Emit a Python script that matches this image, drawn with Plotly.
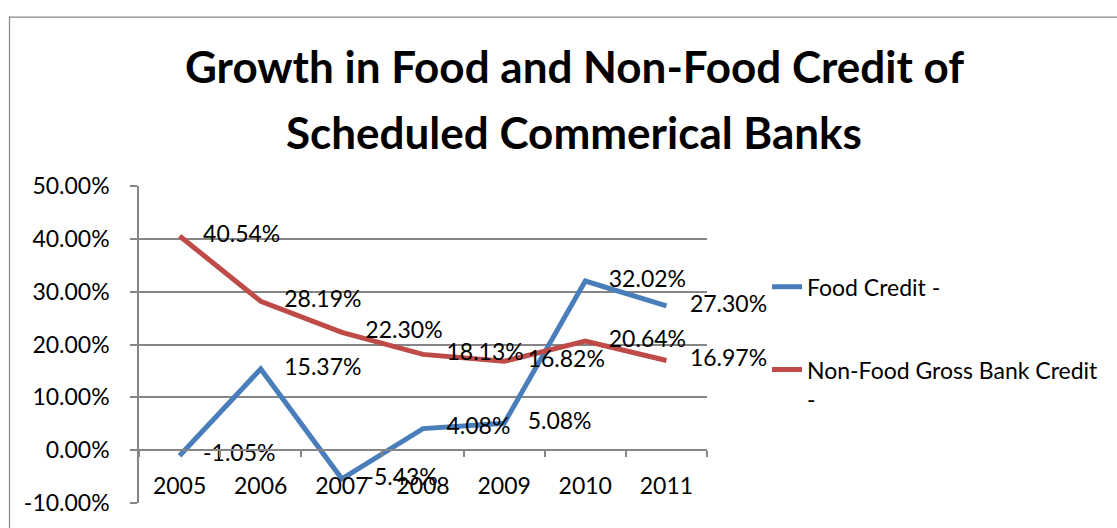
import plotly.graph_objects as go

years = ["2005", "2006", "2007", "2008", "2009", "2010", "2011"]
food_credit = [-0.0105, 0.1537, -0.0543, 0.0408, 0.0508, 0.3202, 0.2730]
non_food_credit = [0.4054, 0.2819, 0.2230, 0.1813, 0.1682, 0.2064, 0.1697]
series_names = ["Food Credit -", "Non-Food Gross Bank Credit<br>-"]
y_ticks = [-0.10, 0.0, 0.10, 0.20, 0.30, 0.40, 0.50]

FONT = "Lato"
FS = 23
BLUE = "#4A7EBB"
RED = "#BE4B48"
GRID = "#868686"


def pct(v):
    return f"{v * 100:.2f}%"


fig = go.Figure()
for name, vals, col, grp in [(series_names[0], food_credit, BLUE, "a"),
                             (series_names[1], non_food_credit, RED, "b")]:
    fig.add_trace(go.Scatter(
        x=years, y=vals, name=name, legendgroup=grp,
        mode="lines+markers+text",
        line=dict(color=col, width=5),
        marker=dict(size=36, color="rgba(0,0,0,0)", line=dict(width=0)),
        text=[pct(v) for v in vals], textposition="middle right",
        textfont=dict(family=FONT, size=FS, color="black"),
        cliponaxis=False,
    ))

W, H = 1117, 528
L, R, T, B = 139, 410, 186, 22
pw = W - L - R
ph = H - T - B


def px_x(x):
    return (x - L) / pw


def px_y(y):
    return (H - B - y) / ph


fig.update_layout(
    width=W, height=H,
    margin=dict(l=L, r=R, t=T, b=B),
    paper_bgcolor="white", plot_bgcolor="white",
    font=dict(family=FONT, size=FS, color="black"),
    showlegend=True,
    legend=dict(x=px_x(767), y=px_y(266), xanchor="left", yanchor="top",
                valign="top", tracegroupgap=50,
                font=dict(family=FONT, size=FS, color="black"),
                bgcolor="rgba(0,0,0,0)"),
    xaxis=dict(type="category", anchor="free", position=10/60,
               showline=True, linecolor=GRID, linewidth=1.5,
               ticks="outside", tickson="boundaries", ticklen=6,
               tickcolor=GRID, tickwidth=1.5, showgrid=False,
               ticklabelstandoff=15,
               tickfont=dict(family=FONT, size=FS, color="black"),
               range=[-0.5, 6.5], zeroline=False),
    yaxis=dict(range=[-0.10, 0.50], tickvals=y_ticks,
               ticktext=[pct(v) for v in y_ticks],
               showgrid=True, gridcolor=GRID, gridwidth=1.5,
               showline=True, linecolor=GRID, linewidth=1.5,
               ticks="outside", ticklen=7, tickcolor=GRID, tickwidth=1.5,
               ticklabelstandoff=16, zeroline=False,
               tickfont=dict(family=FONT, size=FS, color="black")),
    annotations=[
        dict(text="<b>Growth in Food and Non-Food Credit of</b>",
             x=px_x(574), y=px_y(65), xref="paper", yref="paper",
             xanchor="center", yanchor="middle", showarrow=False,
             font=dict(family=FONT, size=44, color="black")),
        dict(text="<b>Scheduled Commerical Banks</b>",
             x=px_x(574), y=px_y(131), xref="paper", yref="paper",
             xanchor="center", yanchor="middle", showarrow=False,
             font=dict(family=FONT, size=44, color="black")),
    ],
    shapes=[dict(type="rect", xref="paper", yref="paper",
                 x0=px_x(9.5), y0=px_y(540), x1=px_x(1130), y1=px_y(15.5),
                 line=dict(color=GRID, width=1.2), layer="below")],
)

fig.write_html("out.html")
